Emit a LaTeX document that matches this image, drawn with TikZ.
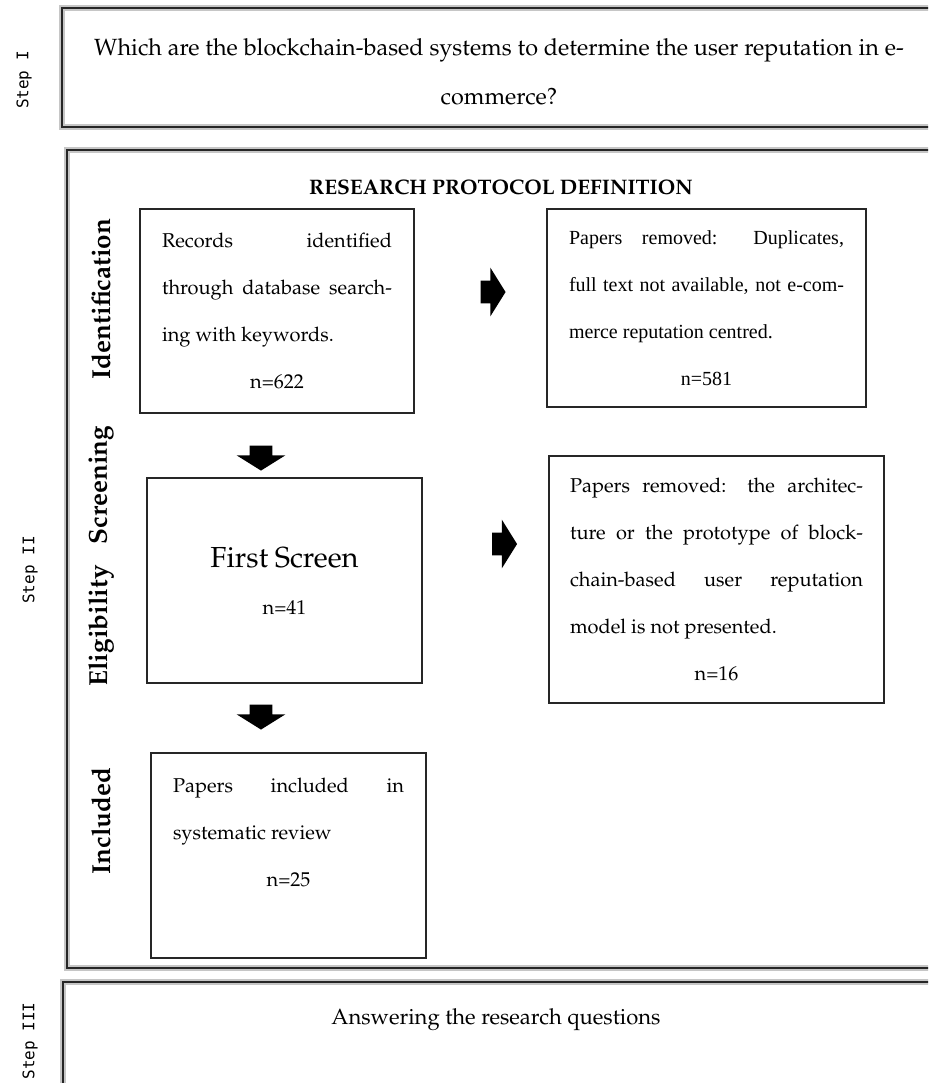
\documentclass[tikz,border=0pt]{standalone}
\usepackage[T1]{fontenc}
\usepackage{fontspec}
\usepackage{tikz}
\usetikzlibrary{shapes.arrows}
\newfontfamily\timesfont{Liberation Serif}
\newfontfamily\stepfont{DejaVu Sans Mono}
\IfFileExists{t1ppl.fd}
    {\newcommand{\palfont}{\fontencoding{T1}\fontfamily{ppl}\selectfont}}
    {\newfontfamily\palfont[Scale=1.1]{Liberation Serif}}
\setlength{\parindent}{0pt}

\begin{document}
\begin{tikzpicture}[x=0.5pt,y=-0.5pt,
        frame/.style={draw=black!85,line width=1.4pt,preaction={draw=gray!45,line width=2.6pt}},
        box/.style={draw=black!85,line width=0.8pt,inner xsep=11pt,inner ysep=0pt,text width=115pt,
            minimum height=102pt,align=justify,font=\palfont\fontsize{10}{23.5}\selectfont},
        blockarr/.style={single arrow,fill=black,inner xsep=0pt,inner ysep=5.5pt,minimum height=12.5pt,
            minimum width=24pt,single arrow head extend=6.5pt,single arrow tip angle=116},
        side/.style={rotate=90,font=\palfont\bfseries\fontsize{13}{15}\selectfont},
        steplab/.style={rotate=90,font=\stepfont\fontsize{8}{10}\selectfont}]
        \clip (0,0) rectangle (928,1083);
        % the three steps
        \draw[frame] (62,8) rectangle (936,127);
        \draw[frame] (67,150) rectangle (936,968);
        \draw[frame] (63,982) rectangle (936,1100);
        \node[steplab] (st1) at (24,80) {Step I};
        \node[steplab] (st2) at (30,570) {Step II};
        \node[steplab] (st3) at (30,1041) {Step III};
        \node[align=center,font=\palfont\fontsize{11.7}{24.5}\selectfont] (quest) at (499,72)
            {Which are the blockchain-based systems to determine the user reputation in e-\\commerce?};
        \node[font=\palfont\bfseries\fontsize{10.5}{12}\selectfont] (proto) at (501,187) {RESEARCH PROTOCOL DEFINITION};
        \node[font=\palfont\fontsize{11}{13}\selectfont] (answ) at (496,1020) {Answering the research questions};
        % phases
        \node[side] (idl) at (101,299) {Identification};
        \node[side] (scl) at (101,485) {Screening};
        \node[side] (ell) at (101,626) {Eligibility};
        \node[side] (inl) at (101,821) {Included};
        % boxes
        \node[box] (rec) at (277,311)
            {Records identified\linebreak through database search-\linebreak ing with keywords.\par\makebox[\hsize]{n=622}};
        \node[box,text width=137.5pt,minimum height=99pt,font=\timesfont\fontsize{10}{23.5}\selectfont] (rem1) at (706.5,308)
            {Papers removed: Duplicates,\linebreak full text not available, not e-com-\linebreak merce reputation centred.\par\makebox[\hsize]{n=581}};
        \node[box,text width=115.5pt,minimum height=102.5pt,align=center] (scr) at (284.5,580.5)
            {{\fontsize{14.5}{17}\selectfont First Screen}\\ n=41};
        \node[box,text width=146.5pt,inner xsep=10.5pt,minimum height=123.5pt] (rem2) at (716.5,579.5)
            {Papers removed: the architec-\linebreak ture or the prototype of block-\linebreak chain-based user reputation\linebreak model is not presented.\par\makebox[\hsize]{n=16}};
        \node[box,text width=115.5pt,minimum height=102.5pt] (inc) at (288.5,855.5)
            {Papers included in\linebreak systematic review\par\makebox[\hsize]{n=25}\par\mbox{}};
        % arrows
        \node[blockarr,rotate=-90] (dn1) at (261,454.5) {};
        \node[blockarr,rotate=-90] (dn2) at (261,713.5) {};
        \node[blockarr] (rt1) at (489.5,292) {};
        \node[blockarr] (rt2) at (501,544) {};
\end{tikzpicture}
\end{document}
